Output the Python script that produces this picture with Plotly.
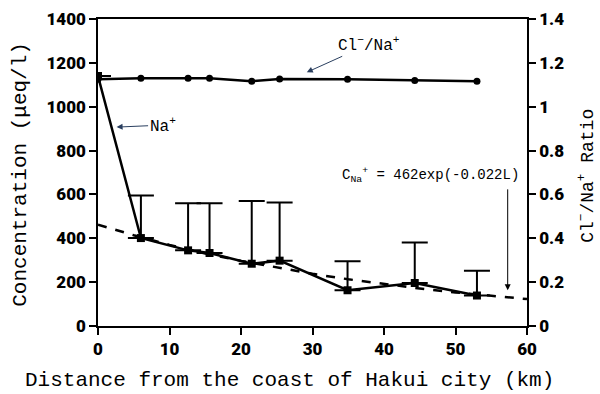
import plotly.graph_objects as go

# Data
distance_km = [0, 6, 12.6, 15.6, 21.5, 25.4, 34.9, 44.3, 53]
na_conc = [1140, 401, 345, 333, 284, 298, 163, 196, 139]
na_upper = [None, 595, 560, 560, 570, 563, 295, 381, 252]
cl_na_ratio = [1.125, 1.13, 1.13, 1.13, 1.116, 1.126, 1.125, 1.12, 1.116]

fit_x = [0, 5, 10, 15, 20, 25, 30, 35, 40, 45, 50, 55, 60]
fit_y = [462, 414, 370, 331, 297, 266, 238, 213, 191, 171, 153, 137, 123]

x_ticks = [0, 10, 20, 30, 40, 50, 60]
x_labels = ["0", "10", "20", "30", "40", "50", "60"]
y_ticks = [0, 200, 400, 600, 800, 1000, 1200, 1400]
y_labels = ["0", "200", "400", "600", "800", "1000", "1200", "1400"]
ratio_ticks = [0, 0.2, 0.4, 0.6, 0.8, 1, 1.2, 1.4]
ratio_labels = ["0", "0.2", "0.4", "0.6", "0.8", "1", "1.2", "1.4"]

err_plus = [None if u is None else u - v for u, v in zip(na_upper, na_conc)]

MONO = "Liberation Mono"
TICKF = dict(family="Roboto", size=17, color="black", weight=900)

fig = go.Figure()

fig.add_trace(go.Scatter(
    x=fit_x, y=fit_y, mode="lines",
    line=dict(color="black", width=2.5, dash="dash"),
    showlegend=False, hoverinfo="skip"))

fig.add_trace(go.Scatter(
    x=distance_km, y=na_conc, mode="lines+markers",
    line=dict(color="black", width=2.5),
    marker=dict(symbol="square", size=8, color="black"),
    error_y=dict(type="data", symmetric=False, array=err_plus,
                 arrayminus=[0] * len(na_conc),
                 color="black", thickness=2, width=13),
    showlegend=False))

fig.add_trace(go.Scatter(
    x=distance_km, y=cl_na_ratio, mode="lines+markers", yaxis="y2",
    line=dict(color="black", width=2.5),
    marker=dict(symbol="circle", size=7, color="black"),
    showlegend=False))

axis_common = dict(showgrid=False, zeroline=False, showline=True,
                   linecolor="black", linewidth=1.5, ticks="outside",
                   ticklen=7, tickwidth=1.5, tickcolor="black",
                   tickfont=TICKF, automargin=False)

PW, PH = 429, 307.5

fig.update_layout(
    width=600, height=394,
    margin=dict(l=98, r=73, t=19, b=67.5, autoexpand=False),
    paper_bgcolor="white", plot_bgcolor="white",
    xaxis=dict(range=[0, 60], tickvals=x_ticks, ticktext=x_labels,
               mirror=True, **axis_common),
    yaxis=dict(range=[0, 1400], tickvals=y_ticks, ticktext=y_labels,
               **axis_common),
    yaxis2=dict(range=[0, 1.4], overlaying="y", side="right",
                tickvals=ratio_ticks, ticktext=ratio_labels,
                **axis_common),
    annotations=[
        dict(text="Distance from the coast of Hakui city (km)",
             xref="paper", yref="paper", x=(289 - 98) / PW, y=(326.5 - 381) / PH,
             xanchor="center", yanchor="middle", showarrow=False,
             font=dict(family=MONO, size=21, color="black")),
        dict(text="Concentration (μeq/l)",
             xref="paper", yref="paper", x=(21 - 98) / PW, y=(326.5 - 175) / PH,
             xanchor="center", yanchor="middle", showarrow=False, textangle=-90,
             font=dict(family=MONO, size=21, color="black")),
        dict(text="Cl<sup>−</sup>/Na<sup>+</sup> Ratio",
             xref="paper", yref="paper", x=(587 - 98) / PW, y=(326.5 - 176) / PH,
             xanchor="center", yanchor="middle", showarrow=False, textangle=-90,
             font=dict(family=MONO, size=18, color="black")),
        dict(text="Na<sup>+</sup>", x=2.6, y=907, xref="x", yref="y",
             ax=46, ay=-2, showarrow=True, arrowhead=2, arrowwidth=1,
             arrowsize=1.2, font=dict(family=MONO, size=16, color="black")),
        dict(text="Cl<sup>−</sup>/Na<sup>+</sup>", x=29.2, y=1157, xref="x", yref="y",
             ax=62, ay=-28, showarrow=True, arrowhead=2, arrowwidth=1,
             arrowsize=1.2, font=dict(family=MONO, size=16, color="black")),
        dict(text="C<sub>Na</sub><sup>+</sup> = 462exp(-0.022L)",
             x=(430 - 98.3) / 7.14, y=(326.5 - 175) / 0.22, xref="x", yref="y",
             showarrow=False, font=dict(family=MONO, size=14, color="black")),
        dict(text="", x=57.3, y=163, xref="x", yref="y",
             ax=57.3, ay=630, axref="x", ayref="y",
             showarrow=True, arrowhead=2, arrowwidth=1, arrowsize=1.2,
             arrowcolor="black"),
    ],
)

fig.write_html("out.html",
               config={"displayModeBar": False},
               post_script="document.body.style.margin='0';document.body.style.overflow='hidden';")
